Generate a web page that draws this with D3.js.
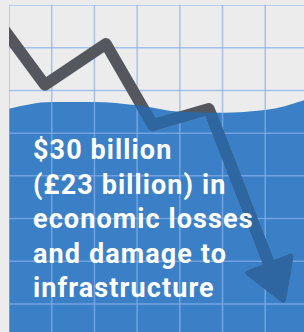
<!DOCTYPE html>
<html lang="en">
<head>
  <meta charset="UTF-8" />
  <title>Economic losses</title>
  <script src="https://d3js.org/d3.v7.min.js"></script>
  <style>
    html, body { margin: 0; padding: 0; background: #ececec; }
    svg { display: block; }
  </style>
</head>
<body>
  <div id="chart"></div>

  <script>
    // Grid cells (both axes, in grid units)
    const gridTicks = [0, 1, 2, 3, 4, 5, 6, 7];

    // Falling line: x position and value (grid units)
    const lineX = [0, 0.84, 2.27, 3.37, 4.68, 6.42];
    const lineY = [6.27, 5.13, 6.09, 4.19, 4.57, 0.09];

    // Water level surface
    const waveX = [0, 1, 2, 3, 4, 5, 6, 7];
    const waveY = [4.57, 4.73, 4.73, 4.65, 4.50, 4.48, 4.54, 4.80];

    // Caption lines
    const caption = [
      "$30 billion",
      "(£23 billion) in",
      "economic losses",
      "and damage to",
      "infrastructure"
    ];

    const width = 304, height = 332;
    const plotLeft = 9, plotTop = 5, cell = 42.71;

    const x = d3.scaleLinear().domain([0, 7]).range([plotLeft, plotLeft + 7 * cell]);
    const y = d3.scaleLinear().domain([0, 7]).range([plotTop + 7 * cell, plotTop]);

    const svg = d3.select("#chart")
      .append("svg")
      .attr("width", width)
      .attr("height", height);

    const defs = svg.append("defs");

    // Plot area clip (everything starts at the left grid line)
    defs.append("clipPath").attr("id", "plot")
      .append("rect")
      .attr("x", plotLeft).attr("y", plotTop)
      .attr("width", width - plotLeft).attr("height", height - plotTop);

    const waveArea = d3.area()
      .x((d, i) => x(waveX[i]))
      .y0(height)
      .y1(d => y(d))
      .curve(d3.curveMonotoneX);

    defs.append("clipPath").attr("id", "water")
      .append("path")
      .attr("d", waveArea(waveY));

    const plot = svg.append("g").attr("clip-path", "url(#plot)");

    // Water
    plot.append("path")
      .attr("d", waveArea(waveY))
      .attr("fill", "#3b80c6");

    // Grid
    plot.append("g")
      .selectAll("line")
      .data(gridTicks)
      .enter()
      .append("line")
      .attr("x1", d => x(d)).attr("x2", d => x(d))
      .attr("y1", plotTop).attr("y2", height)
      .attr("stroke", "#88b0ec")
      .attr("stroke-opacity", 0.7)
      .attr("stroke-width", 1.5);

    plot.append("g")
      .selectAll("line")
      .data(gridTicks)
      .enter()
      .append("line")
      .attr("y1", d => y(d)).attr("y2", d => y(d))
      .attr("x1", plotLeft).attr("x2", width)
      .attr("stroke", "#88b0ec")
      .attr("stroke-opacity", 0.7)
      .attr("stroke-width", 1.5);

    // Line + arrow head
    const pts = lineX.map((d, i) => [x(d), y(lineY[i])]);
    const tip = pts[pts.length - 1];
    const prev = pts[pts.length - 2];
    const dx = tip[0] - prev[0], dy = tip[1] - prev[1];
    const len = Math.hypot(dx, dy);
    const ux = dx / len, uy = dy / len;
    const headLen = 38, headHalf = 23;
    const base = [tip[0] - ux * headLen, tip[1] - uy * headLen];
    const head = [
      tip,
      [base[0] - uy * headHalf, base[1] + ux * headHalf],
      [base[0] + uy * headHalf, base[1] - ux * headHalf]
    ];
    const shaft = pts.slice(0, -1).concat([[base[0] + ux * 2, base[1] + uy * 2]]);
    shaft[0] = [shaft[0][0] - 20, shaft[0][1] - 27];

    function drawArrow(g, color) {
      g.append("path")
        .attr("d", d3.line()(shaft))
        .attr("fill", "none")
        .attr("stroke", color)
        .attr("stroke-width", 11.5)
        .attr("stroke-linejoin", "round");
      g.append("path")
        .attr("d", d3.line()(head) + "Z")
        .attr("fill", color)
        .attr("stroke", color)
        .attr("stroke-width", 5)
        .attr("stroke-linejoin", "round");
    }

    drawArrow(plot.append("g"), "#55575f");
    drawArrow(plot.append("g").attr("clip-path", "url(#water)"), "#2e66a2");

    // Caption
    svg.append("g")
      .selectAll("text")
      .data(caption)
      .enter()
      .append("text")
      .attr("x", 33)
      .attr("y", (d, i) => 159 + i * 34.5)
      .attr("fill", "#ffffff")
      .style("font-family", "Roboto, sans-serif")
      .style("font-weight", 700)
      .style("font-size", "27px")
      .style("letter-spacing", "1.1px")
      .text(d => d);
  </script>
</body>
</html>
